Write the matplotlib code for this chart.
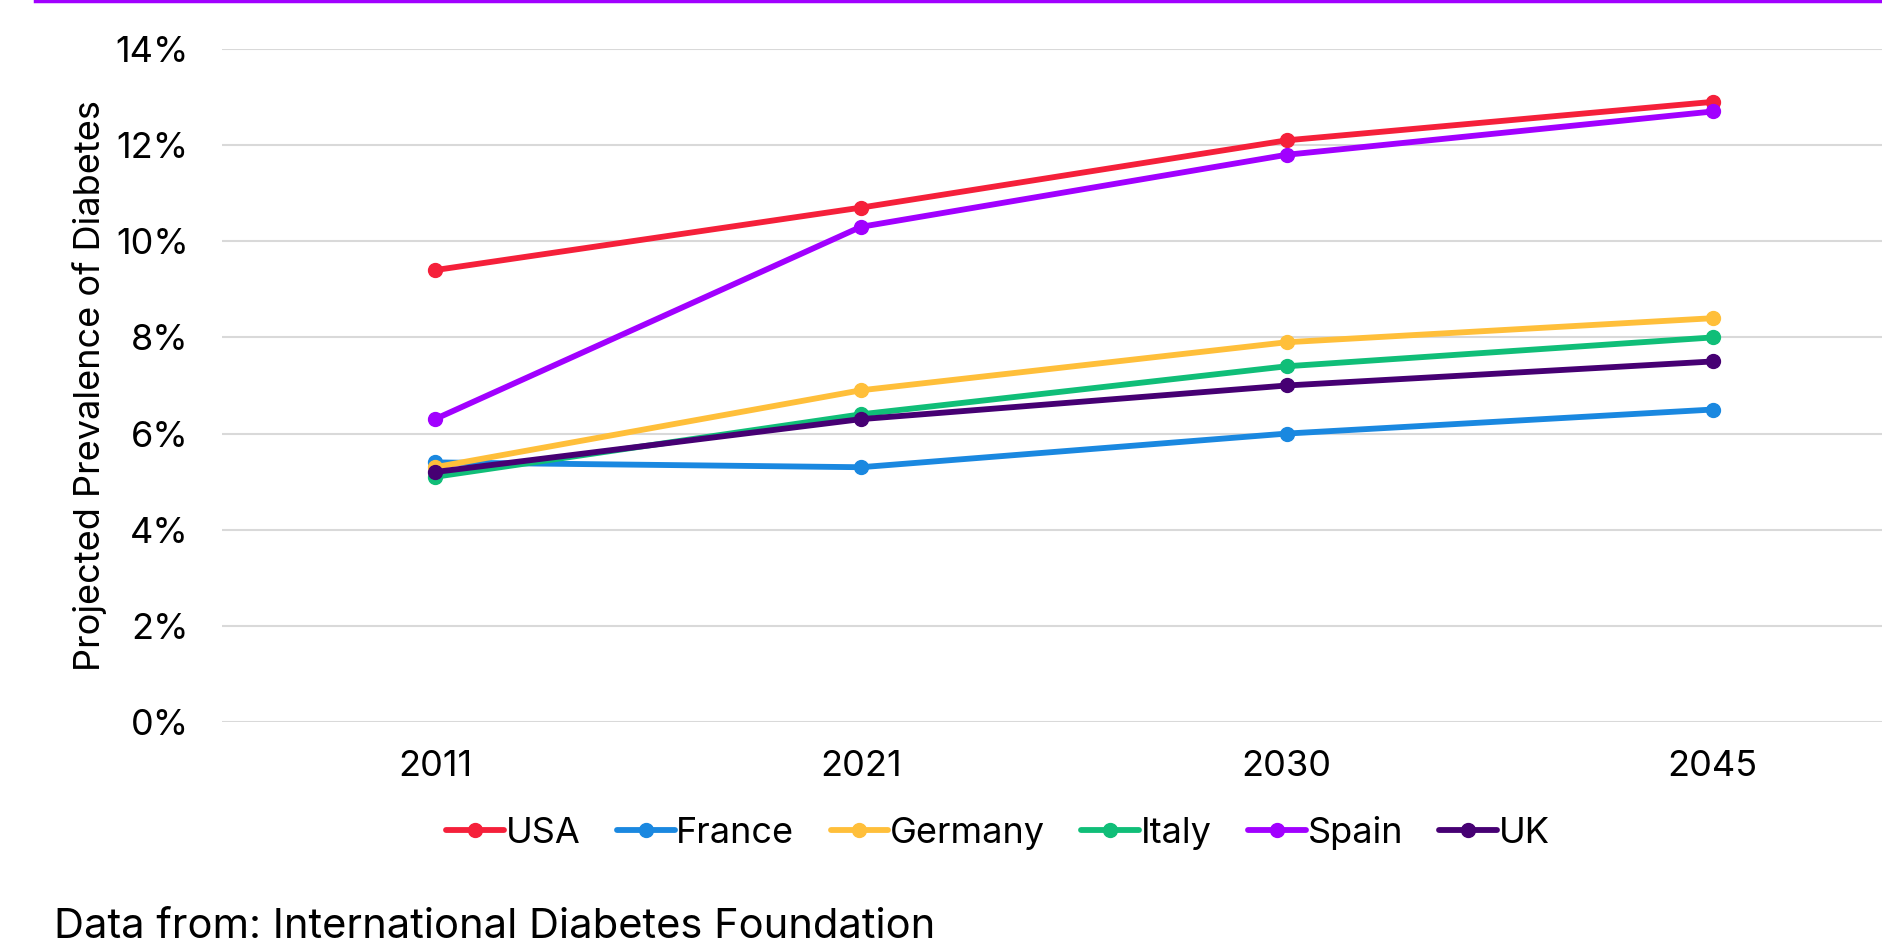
import matplotlib.pyplot as plt
from matplotlib.lines import Line2D
from matplotlib.ticker import PercentFormatter

plt.rcParams['font.family'] = ['Inter', 'DejaVu Sans']

years = ['2011', '2021', '2030', '2045']
countries = ['USA', 'France', 'Germany', 'Italy', 'Spain', 'UK']
usa = [9.4, 10.7, 12.1, 12.9]
france = [5.4, 5.3, 6.0, 6.5]
germany = [5.3, 6.9, 7.9, 8.4]
italy = [5.1, 6.4, 7.4, 8.0]
spain = [6.3, 10.3, 11.8, 12.7]
uk = [5.2, 6.3, 7.0, 7.5]
colors = ['#F5203A', '#1A88E0', '#FFBF3A', '#10BE78', '#A100FF', '#460073']

series = [usa, france, germany, italy, spain, uk]

fig = plt.figure(figsize=(18.83, 9.47), dpi=100)
ax = fig.add_axes([222 / 1883, 1 - 722 / 947, (1883 - 222) / 1883, (722 - 49) / 947])

x = range(len(years))
for name, vals, c in zip(countries, series, colors):
    ax.plot(x, vals, color=c, linewidth=4.2, marker='o', markersize=10,
            label=name, solid_capstyle='round')

ax.set_ylim(0, 14)
ax.set_yticks(range(0, 15, 2))
ax.yaxis.set_major_formatter(PercentFormatter(decimals=0))
ax.set_xlim(-0.5, 3.40)
ax.set_xticks(list(x))
ax.set_xticklabels(years)
ax.grid(axis='y', color='#D9D9D9', linewidth=1.5)
ax.set_axisbelow(True)
for s in ax.spines.values():
    s.set_visible(False)
ax.tick_params(length=0, labelsize=26)
ax.tick_params(axis='y', pad=24)
ax.tick_params(axis='x', pad=20)
ax.set_ylabel('Projected Prevalence of Diabetes', fontsize=26, labelpad=6)

fig.legend(loc='center', bbox_to_anchor=(0.53, 1 - 833 / 947), ncol=6, frameon=False,
           fontsize=26, handlelength=1.6, handletextpad=0.05, columnspacing=1.0)

fig.text(54 / 1883, 1 - 927 / 947, 'Data from: International Diabetes Foundation',
         fontsize=30, va='center', ha='left')

fig.add_artist(Line2D([35 / 1883, 1], [0.999, 0.999], color='#A100FF', linewidth=2.5,
                      transform=fig.transFigure))

fig.savefig('out.png', dpi=100)
